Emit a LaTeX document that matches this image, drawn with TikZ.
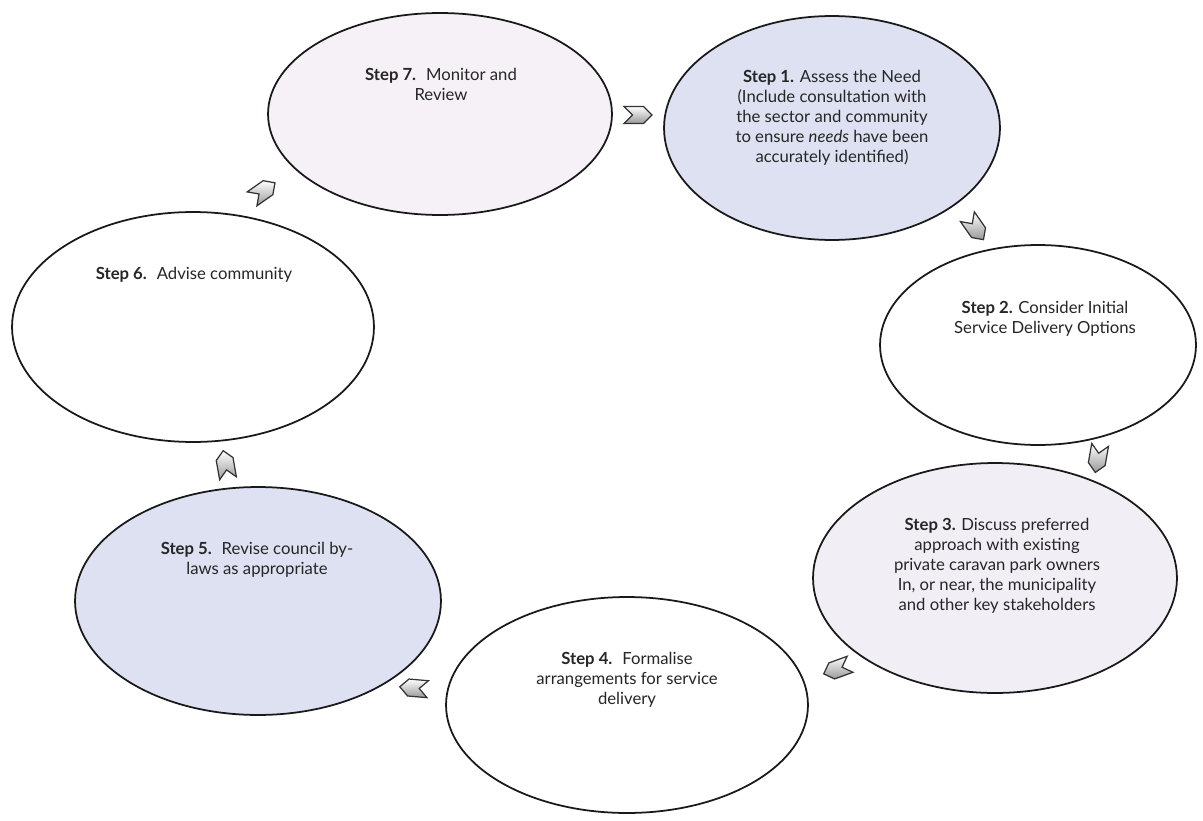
\documentclass[tikz,border=0pt]{standalone}
\usepackage{fontspec}
\setmainfont{Lato}
\usetikzlibrary{shapes.geometric}
\usetikzlibrary{shapes.symbols}
\definecolor{pinkfill}{HTML}{F5F1F7}
\definecolor{bluefill}{HTML}{DDE1F1}
\definecolor{lilacfill}{HTML}{F1EEF5}

\begin{document}
\begin{tikzpicture}[x=0.02cm, y=-0.02cm,
    every node/.style={font=\fontsize{9.5}{11.3}\selectfont, text=black!85},
    stepbox/.style={ellipse, draw=black!90, line width=1pt, inner sep=0pt},
    steptext/.style={align=center, inner sep=0pt, anchor=north},
    chev/.style={signal, signal to=east, signal from=west, draw=black!80,
      line width=0.7pt, top color=white, bottom color=black!40,
      minimum width=0.56cm, minimum height=0.34cm, inner sep=0pt}]
  \useasboundingbox[fill=white] (0,0) rectangle (1203,821);

  % the seven steps
  \node[stepbox, fill=pinkfill, minimum width=6.88cm, minimum height=4.04cm] (s7) at (440,114) {};
  \node[stepbox, fill=bluefill, minimum width=6.72cm, minimum height=4.48cm] (s1) at (832,128) {};
  \node[stepbox, minimum width=6.32cm, minimum height=4cm] (s2) at (1038,345) {};
  \node[stepbox, fill=lilacfill, minimum width=7.28cm, minimum height=4.6cm] (s3) at (995,578) {};
  \node[stepbox, minimum width=7.24cm, minimum height=4.32cm] (s4) at (627,705) {};
  \node[stepbox, fill=bluefill, minimum width=7.32cm, minimum height=4.56cm] (s5) at (258,601) {};
  \node[stepbox, minimum width=7.24cm, minimum height=4.6cm] (s6) at (193,327) {};

  \node[steptext] (t7) at (441,68) {\textbf{Step 7.}~ Monitor and\\Review};
  \node[steptext] (t1) at (832,70) {\textbf{Step 1.} Assess the Need\\(Include consultation with\\the sector and community\\to ensure \emph{needs} have been\\accurately identified)};
  \node[steptext] (t2) at (1045,301) {\textbf{Step 2.} Consider Initial\\Service Delivery Options};
  \node[steptext] (t3) at (997,518) {\textbf{Step 3.} Discuss preferred\\approach with existing\\private caravan park owners\\In, or near, the municipality\\and other key stakeholders};
  \node[steptext] (t4) at (627,652) {\textbf{Step 4.}~ Formalise\\arrangements for service\\delivery};
  \node[steptext] (t5) at (257,542) {\textbf{Step 5.}~ Revise council by-\\laws as appropriate};
  \node[steptext] (t6) at (194,267) {\textbf{Step 6.}~ Advise community};

  % chevrons between the steps
  \path (s7.2) -- node[chev] (a71) {} (s1.178);
  \path (s1.-35) -- node[chev, rotate=-55] (a12) {} (s2.110);
  \path (s2.-55) -- node[chev, rotate=-100] (a23) {} (s3.45);
  \path (s3.215) -- node[chev, rotate=-160] (a34) {} (s4.10);
  \path (s4.175) -- node[chev, rotate=175] (a45) {} (s5.-35);
  \path (s5.100) -- node[chev, rotate=100] (a56) {} (s6.-80);
  \path (s6.70) -- node[chev, rotate=35] (a67) {} (s7.200);
\end{tikzpicture}
\end{document}
